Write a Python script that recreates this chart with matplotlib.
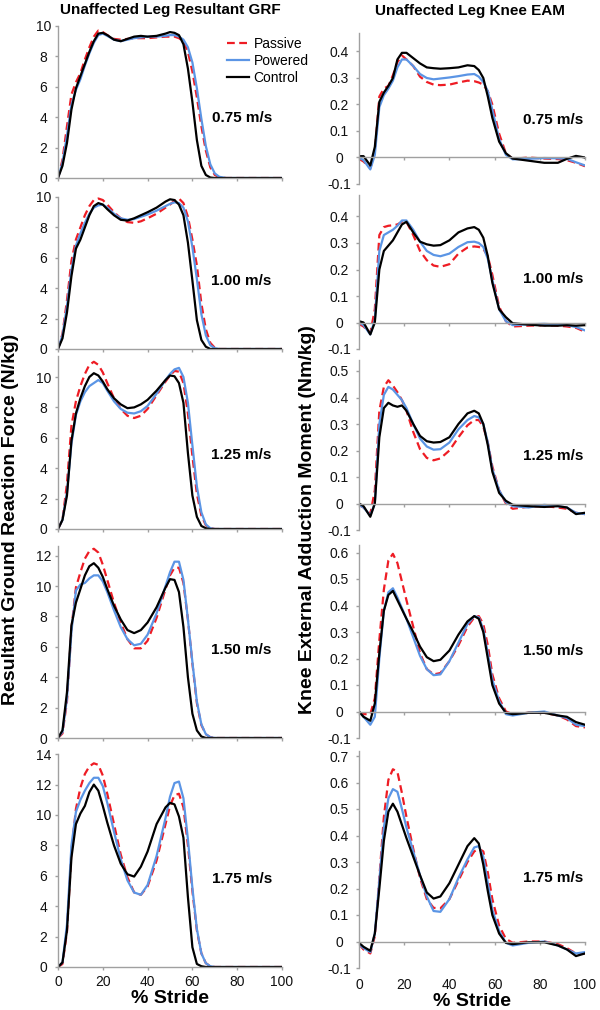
import matplotlib

matplotlib.use("Agg")

import matplotlib.pyplot as plt

plt.rcParams.update(
    {
        "font.family": ["Liberation Sans", "DejaVu Sans"],
        "font.size": 10,
    }
)

# ---- data ----
SPEEDS = ["0.75 m/s", "1.00 m/s", "1.25 m/s", "1.50 m/s", "1.75 m/s"]
CONDITIONS = ["Passive", "Powered", "Control"]

STRIDE_GRF = [0, 2, 4, 6, 8, 10, 12, 14, 16, 18, 20, 22, 25, 28, 31, 34, 37, 40,
              44, 48, 50, 52, 54, 56, 58, 60, 62, 64, 66, 68, 70, 72, 75, 100]

GRF_PASSIVE_075 = [0, 1.2, 3.4, 5.5, 6.3, 6.9, 7.8, 8.6, 9.3, 9.7, 9.6, 9.4, 9.15, 9.1, 9.15, 9.2, 9.2,
                   9.2, 9.25, 9.3, 9.3, 9.3, 9.2, 9.0, 8.3, 7.0, 5.3, 3.4, 1.8, 0.7, 0.2, 0.05, 0, 0]
GRF_POWERED_075 = [0, 1.0, 2.8, 4.8, 5.8, 6.5, 7.4, 8.2, 8.9, 9.4, 9.5, 9.35, 9.1, 9.0, 9.1, 9.2, 9.25,
                   9.3, 9.3, 9.35, 9.4, 9.4, 9.3, 9.1, 8.6, 7.6, 5.9, 3.9, 2.1, 0.9, 0.3, 0.08, 0, 0]
GRF_CONTROL_075 = [0, 0.8, 2.3, 4.5, 5.9, 6.7, 7.5, 8.3, 9.0, 9.5, 9.55, 9.4, 9.1, 9.0, 9.15, 9.3, 9.35,
                   9.3, 9.35, 9.5, 9.6, 9.55, 9.4, 8.8, 7.2, 5.0, 2.5, 0.8, 0.2, 0.03, 0, 0, 0, 0]

GRF_PASSIVE_100 = [0, 1.0, 3.2, 5.8, 7.2, 8.0, 8.8, 9.4, 9.8, 9.9, 9.8, 9.5, 9.0, 8.6, 8.35, 8.3, 8.4,
                   8.6, 8.9, 9.3, 9.5, 9.75, 9.9, 9.6, 8.7, 7.2, 5.5, 3.0, 1.3, 0.4, 0.08, 0, 0, 0]
GRF_POWERED_100 = [0, 0.9, 2.8, 5.2, 6.8, 7.6, 8.3, 8.9, 9.3, 9.45, 9.5, 9.3, 8.9, 8.6, 8.5, 8.55, 8.7,
                   8.85, 9.1, 9.4, 9.55, 9.65, 9.6, 9.3, 8.4, 6.7, 4.6, 2.3, 0.9, 0.25, 0.05, 0, 0, 0]
GRF_CONTROL_100 = [0, 0.7, 2.4, 4.8, 6.6, 7.2, 8.0, 8.8, 9.4, 9.6, 9.5, 9.2, 8.8, 8.5, 8.45, 8.6, 8.8,
                   9.0, 9.3, 9.7, 9.85, 9.8, 9.5, 8.8, 7.0, 4.5, 1.9, 0.6, 0.15, 0, 0, 0, 0, 0]

GRF_PASSIVE_125 = [0, 0.6, 3.0, 6.8, 8.4, 9.4, 10.2, 10.8, 11.0, 10.8, 10.3, 9.6, 8.6, 7.9, 7.45, 7.3, 7.45,
                   7.9, 8.8, 9.7, 10.1, 10.4, 10.35, 9.6, 7.6, 4.8, 2.3, 0.9, 0.25, 0.05, 0, 0, 0, 0]
GRF_POWERED_125 = [0, 0.6, 2.4, 5.6, 7.5, 8.4, 9.0, 9.4, 9.6, 9.8, 9.6, 9.1, 8.4, 7.9, 7.65, 7.6, 7.75,
                   8.1, 8.9, 9.8, 10.2, 10.5, 10.6, 10.0, 8.3, 5.5, 2.8, 1.1, 0.3, 0.05, 0, 0, 0, 0]
GRF_CONTROL_125 = [0, 0.6, 2.2, 5.8, 7.6, 8.6, 9.4, 10.0, 10.25, 10.1, 9.7, 9.2, 8.6, 8.2, 7.95, 8.0, 8.2,
                   8.5, 9.1, 9.8, 10.1, 10.05, 9.6, 8.3, 5.0, 2.2, 0.8, 0.2, 0.05, 0, 0, 0, 0, 0]

GRF_PASSIVE_150 = [0, 0.3, 2.4, 7.2, 9.9, 10.9, 11.8, 12.3, 12.45, 12.2, 11.4, 10.4, 8.9, 7.6, 6.5, 5.9, 5.9,
                   6.4, 7.9, 9.8, 10.7, 11.2, 11.2, 10.2, 7.8, 4.9, 2.3, 0.85, 0.25, 0.05, 0, 0, 0, 0]
GRF_POWERED_150 = [0, 0.4, 2.6, 7.0, 9.7, 10.1, 10.2, 10.5, 10.7, 10.7, 10.3, 9.6, 8.4, 7.3, 6.5, 6.1, 6.2,
                   6.8, 8.2, 10.0, 10.9, 11.6, 11.6, 10.4, 7.8, 5.0, 2.4, 0.9, 0.25, 0.05, 0, 0, 0, 0]
GRF_CONTROL_150 = [0, 0.5, 3.0, 7.4, 8.9, 9.8, 10.7, 11.3, 11.5, 11.2, 10.6, 9.8, 8.7, 7.8, 7.1, 6.9, 7.1,
                   7.6, 8.6, 9.9, 10.45, 10.4, 9.6, 7.3, 4.0, 1.6, 0.5, 0.1, 0, 0, 0, 0, 0, 0]

GRF_PASSIVE_175 = [0, 0.2, 2.3, 7.6, 10.4, 11.8, 12.7, 13.2, 13.4, 13.3, 12.6, 11.4, 9.4, 7.4, 5.9, 4.9, 4.75,
                   5.3, 7.0, 9.4, 10.6, 11.3, 11.4, 10.5, 8.0, 5.0, 2.4, 0.9, 0.25, 0.05, 0, 0, 0, 0]
GRF_POWERED_175 = [0, 0.3, 2.8, 8.0, 10.2, 11.0, 11.6, 12.1, 12.45, 12.45, 11.9, 10.8, 8.9, 7.1, 5.7, 4.9, 4.75,
                   5.4, 7.3, 9.8, 11.2, 12.1, 12.2, 11.1, 8.4, 5.2, 2.5, 0.9, 0.25, 0.05, 0, 0, 0, 0]
GRF_CONTROL_175 = [0, 0.3, 2.4, 7.2, 9.4, 10.1, 10.6, 11.5, 12.0, 11.6, 10.6, 9.5, 8.0, 6.8, 6.1, 5.95, 6.6,
                   7.6, 9.4, 10.5, 10.8, 10.7, 9.9, 8.5, 4.6, 1.3, 0.2, 0.05, 0, 0, 0, 0, 0, 0]

STRIDE_EAM = [0, 2, 5, 7, 9, 11, 13, 15, 17, 19, 21, 24, 27, 30, 33, 36, 40, 44, 48, 51,
              53, 55, 57, 59, 62, 65, 68, 75, 82, 88, 92, 96, 100]

EAM_PASSIVE_075 = [-0.005, -0.015, -0.04, 0.02, 0.23, 0.26, 0.27, 0.31, 0.36, 0.385, 0.37, 0.345, 0.305,
                   0.285, 0.275, 0.273, 0.275, 0.283, 0.29, 0.288, 0.283, 0.275, 0.25, 0.2, 0.09, 0.015,
                   -0.005, 0.0, -0.004, -0.006, -0.01, -0.02, -0.033]
EAM_POWERED_075 = [0.0, -0.01, -0.045, 0.01, 0.19, 0.235, 0.26, 0.29, 0.34, 0.37, 0.37, 0.345, 0.315,
                   0.3, 0.295, 0.298, 0.302, 0.307, 0.313, 0.315, 0.305, 0.285, 0.25, 0.18, 0.07, 0.01,
                   -0.007, -0.005, -0.002, -0.003, -0.005, -0.018, -0.03]
EAM_CONTROL_075 = [0.005, 0.005, -0.03, 0.04, 0.21, 0.245, 0.27, 0.3, 0.37, 0.395, 0.395, 0.375, 0.355,
                   0.34, 0.337, 0.335, 0.337, 0.34, 0.348, 0.345, 0.33, 0.3, 0.23, 0.15, 0.06, 0.016,
                   -0.004, -0.012, -0.02, -0.02, -0.005, 0.006, 0.0]

EAM_PASSIVE_100 = [-0.005, -0.015, -0.04, 0.05, 0.33, 0.36, 0.365, 0.367, 0.37, 0.38, 0.38, 0.33, 0.27,
                   0.235, 0.215, 0.21, 0.22, 0.26, 0.283, 0.287, 0.285, 0.278, 0.25, 0.18, 0.06, 0.005,
                   -0.015, -0.012, -0.01, -0.012, -0.015, -0.02, -0.035]
EAM_POWERED_100 = [0.0, -0.01, -0.045, 0.01, 0.27, 0.33, 0.34, 0.35, 0.365, 0.385, 0.385, 0.35, 0.305,
                   0.27, 0.255, 0.25, 0.26, 0.285, 0.303, 0.305, 0.3, 0.285, 0.24, 0.16, 0.05, 0.005,
                   -0.01, -0.007, -0.005, -0.008, -0.01, -0.017, -0.03]
EAM_CONTROL_100 = [0.005, 0.0, -0.045, 0.0, 0.2, 0.27, 0.29, 0.31, 0.34, 0.37, 0.38, 0.34, 0.305,
                   0.295, 0.29, 0.292, 0.31, 0.34, 0.355, 0.36, 0.35, 0.32, 0.25, 0.15, 0.05, 0.02,
                   -0.003, -0.008, -0.012, -0.012, -0.01, -0.012, -0.01]

EAM_PASSIVE_125 = [-0.005, -0.015, -0.04, 0.05, 0.35, 0.44, 0.465, 0.445, 0.42, 0.39, 0.35, 0.27, 0.205,
                   0.172, 0.163, 0.17, 0.2, 0.25, 0.295, 0.315, 0.315, 0.29, 0.23, 0.14, 0.05, 0.0,
                   -0.02, -0.012, -0.01, -0.015, -0.02, -0.035, -0.04]
EAM_POWERED_125 = [-0.005, -0.015, -0.045, 0.0, 0.3, 0.41, 0.44, 0.43, 0.41, 0.39, 0.36, 0.3, 0.245,
                   0.215, 0.203, 0.205, 0.23, 0.28, 0.315, 0.33, 0.325, 0.3, 0.23, 0.13, 0.05, 0.005,
                   -0.01, -0.015, -0.005, -0.01, -0.015, -0.035, -0.04]
EAM_CONTROL_125 = [0.0, -0.01, -0.05, 0.0, 0.25, 0.36, 0.38, 0.37, 0.365, 0.37, 0.35, 0.3, 0.255,
                   0.235, 0.23, 0.232, 0.25, 0.3, 0.34, 0.35, 0.34, 0.3, 0.22, 0.12, 0.04, 0.01,
                   -0.005, -0.01, -0.013, -0.01, -0.015, -0.04, -0.035]

EAM_PASSIVE_150 = [-0.005, -0.01, -0.01, 0.05, 0.27, 0.46, 0.57, 0.595, 0.56, 0.49, 0.42, 0.32, 0.22,
                   0.16, 0.14, 0.145, 0.19, 0.25, 0.32, 0.355, 0.36, 0.33, 0.25, 0.14, 0.05, 0.0,
                   -0.01, -0.005, -0.005, -0.015, -0.03, -0.055, -0.06]
EAM_POWERED_150 = [0.0, -0.02, -0.05, -0.02, 0.2, 0.38, 0.45, 0.465, 0.43, 0.39, 0.35, 0.28, 0.21,
                   0.16, 0.137, 0.14, 0.19, 0.26, 0.33, 0.36, 0.355, 0.31, 0.22, 0.12, 0.04, -0.01,
                   -0.015, -0.005, 0.0, -0.015, -0.025, -0.05, -0.055]
EAM_CONTROL_150 = [0.0, -0.02, -0.035, 0.03, 0.22, 0.38, 0.44, 0.455, 0.42, 0.385, 0.35, 0.3, 0.245,
                   0.205, 0.19, 0.195, 0.23, 0.29, 0.34, 0.36, 0.35, 0.3, 0.2, 0.1, 0.03, -0.005,
                   -0.01, -0.005, -0.005, -0.015, -0.02, -0.04, -0.05]

EAM_PASSIVE_175 = [-0.01, -0.03, -0.045, 0.02, 0.24, 0.47, 0.61, 0.65, 0.64, 0.56, 0.47, 0.35, 0.24,
                   0.16, 0.127, 0.125, 0.16, 0.23, 0.3, 0.34, 0.35, 0.34, 0.26, 0.16, 0.06, 0.01,
                   -0.005, 0.0, 0.0, -0.01, -0.025, -0.045, -0.045]
EAM_POWERED_175 = [-0.01, -0.025, -0.04, 0.03, 0.23, 0.43, 0.54, 0.575, 0.565, 0.5, 0.43, 0.34, 0.25,
                   0.17, 0.115, 0.112, 0.16, 0.24, 0.31, 0.355, 0.36, 0.32, 0.22, 0.12, 0.04, -0.005,
                   -0.015, -0.005, 0.0, -0.015, -0.03, -0.045, -0.04]
EAM_CONTROL_175 = [-0.005, -0.02, -0.035, 0.03, 0.2, 0.38, 0.49, 0.52, 0.49, 0.44, 0.39, 0.32, 0.25,
                   0.185, 0.162, 0.17, 0.22, 0.29, 0.36, 0.39, 0.37, 0.29, 0.19, 0.1, 0.03, -0.005,
                   -0.01, -0.003, -0.003, -0.015, -0.03, -0.055, -0.045]

GRF = [
    [GRF_PASSIVE_075, GRF_POWERED_075, GRF_CONTROL_075],
    [GRF_PASSIVE_100, GRF_POWERED_100, GRF_CONTROL_100],
    [GRF_PASSIVE_125, GRF_POWERED_125, GRF_CONTROL_125],
    [GRF_PASSIVE_150, GRF_POWERED_150, GRF_CONTROL_150],
    [GRF_PASSIVE_175, GRF_POWERED_175, GRF_CONTROL_175],
]
EAM = [
    [EAM_PASSIVE_075, EAM_POWERED_075, EAM_CONTROL_075],
    [EAM_PASSIVE_100, EAM_POWERED_100, EAM_CONTROL_100],
    [EAM_PASSIVE_125, EAM_POWERED_125, EAM_CONTROL_125],
    [EAM_PASSIVE_150, EAM_POWERED_150, EAM_CONTROL_150],
    [EAM_PASSIVE_175, EAM_POWERED_175, EAM_CONTROL_175],
]

# ---- layout / style ----
W, H = 600, 1010
LINE_STYLES = [
    dict(color="#ee1c24", linestyle=(0, (3.5, 2)), linewidth=1.6),
    dict(color="#5b95e5", linestyle="-", linewidth=1.6),
    dict(color="black", linestyle="-", linewidth=1.6),
]
SPINE = "#a0a0a0"

LEFT_X = (58, 282)
RIGHT_X = (359, 585)
LEFT_BOTTOM = [178, 349, 529, 738, 967]
LEFT_YMAX = [10, 10, 11.4, 12.6, 14]
LEFT_TICKMAX = [10, 10, 10, 12, 14]
LEFT_PX_PER_UNIT = 15.2
RIGHT_BOTTOM = [184, 349, 530, 738, 968]
RIGHT_YMAX = [0.47, 0.48, 0.54, 0.63, 0.72]
RIGHT_TICKMAX = [0.4, 0.4, 0.5, 0.6, 0.7]
RIGHT_PX_PER_UNIT = 265
LEFT_LABEL_Y = [3.95, 4.5, 4.9, 5.8, 5.8]
RIGHT_LABEL_Y = [0.143, 0.166, 0.18, 0.23, 0.24]

fig = plt.figure(figsize=(W / 100, H / 100), dpi=100)


def add_px_axes(xr, bottom, top):
    return fig.add_axes([xr[0] / W, 1 - bottom / H, (xr[1] - xr[0]) / W, (bottom - top) / H])


def style_axes(ax):
    for side in ("top", "right"):
        ax.spines[side].set_visible(False)
    for side in ("left", "bottom"):
        ax.spines[side].set_color(SPINE)
        ax.spines[side].set_linewidth(1.0)
    ax.tick_params(colors=SPINE, labelcolor="#111111", labelsize=10, length=2.5, width=1.0)
    ax.set_xlim(0, 100)
    ax.set_xticks([0, 20, 40, 60, 80, 100])


for i in range(5):
    # resultant GRF
    ymax = LEFT_YMAX[i]
    ax = add_px_axes(LEFT_X, LEFT_BOTTOM[i], LEFT_BOTTOM[i] - ymax * LEFT_PX_PER_UNIT)
    style_axes(ax)
    for series, st, name in zip(GRF[i], LINE_STYLES, CONDITIONS):
        ax.plot(STRIDE_GRF, series, label=name, **st)
    ax.set_ylim(0, ymax)
    ax.set_yticks(list(range(0, LEFT_TICKMAX[i] + 1, 2)))
    ax.tick_params(axis="y", pad=8)
    plt.setp(ax.get_yticklabels(), ha="center")
    ax.text(82, LEFT_LABEL_Y[i], SPEEDS[i], ha="center", va="center",
            fontsize=11, fontweight="bold")
    if i < 4:
        ax.tick_params(axis="x", labelbottom=False)
    else:
        ax.tick_params(axis="x", pad=3)
        ax.set_xlabel("% Stride", fontsize=14, fontweight="bold", labelpad=1)
    if i == 0:
        ax.legend(loc="upper left", bbox_to_anchor=(0.755, 0.93), frameon=False,
                  fontsize=10, borderpad=0, borderaxespad=0, labelspacing=0.22,
                  handlelength=1.6, handletextpad=0.3)

    # knee EAM
    ymax = RIGHT_YMAX[i]
    ax = add_px_axes(RIGHT_X, RIGHT_BOTTOM[i], RIGHT_BOTTOM[i] - (ymax + 0.1) * RIGHT_PX_PER_UNIT)
    style_axes(ax)
    for series, st, name in zip(EAM[i], LINE_STYLES, CONDITIONS):
        ax.plot(STRIDE_EAM, series, label=name, **st)
    ax.set_ylim(-0.1, ymax)
    n = int(round(RIGHT_TICKMAX[i] * 10))
    yt = [k / 10 for k in range(-1, n + 1)]
    ax.set_yticks(yt, ["0" if v == 0 else f"{v:.1f}" for v in yt])
    ax.tick_params(axis="y", pad=11.5)
    plt.setp(ax.get_yticklabels(), ha="center")
    ax.spines["bottom"].set_position(("data", 0))
    ax.tick_params(axis="x", labelbottom=False)
    ax.text(86, RIGHT_LABEL_Y[i], SPEEDS[i], ha="center", va="center",
            fontsize=11, fontweight="bold")
    if i == 4:
        sec = ax.secondary_xaxis("bottom")
        sec.spines["bottom"].set_visible(False)
        sec.set_xticks([0, 20, 40, 60, 80, 100])
        sec.tick_params(length=0, labelsize=10, labelcolor="#111111", pad=7)
        sec.set_xlabel("% Stride", fontsize=14, fontweight="bold", labelpad=1)

fig.text(170 / W, 1 - 10 / H, "Unaffected Leg Resultant GRF", ha="center", va="center",
         fontsize=11, fontweight="bold")
fig.text(470 / W, 1 - 11 / H, "Unaffected Leg Knee EAM", ha="center", va="center",
         fontsize=11, fontweight="bold")
fig.text(11 / W, 1 - 519 / H, "Resultant Ground Reaction Force (N/kg)", rotation=90,
         ha="center", va="center", fontsize=14, fontweight="bold")
fig.text(308 / W, 1 - 520 / H, "Knee External Adduction Moment (Nm/kg)", rotation=90,
         ha="center", va="center", fontsize=14, fontweight="bold")

fig.savefig("out.png", dpi=100)
plt.close(fig)
